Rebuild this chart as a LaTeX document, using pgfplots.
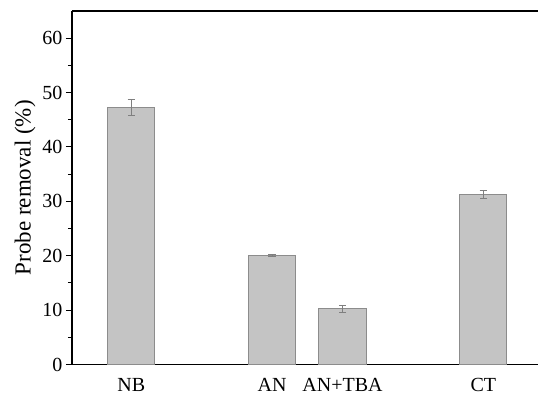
\documentclass[border=0pt]{standalone}
\usepackage{fontspec}
\setmainfont{Liberation Serif}
\usepackage{pgfplots}
\pgfplotsset{compat=1.18}
\usepackage{pgfplotstable}

\definecolor{barfill}{HTML}{C4C4C4}
\definecolor{baredge}{HTML}{8C8C8C}
\definecolor{errgray}{HTML}{7F7F7F}

% probe removal per condition (position on the x axis, mean, error)
\pgfplotstableread{
pos value err
1 47.3 1.45
3 20.0 0.2
4 10.25 0.63
6 31.25 0.7
}\removaltable

\begin{document}
\begin{tikzpicture}
\begin{axis}[
  at={(0,0)}, anchor=south west,
  scale only axis, width=466pt, height=353.5pt,
  xmin=0.158, xmax=6.777, ymin=0, ymax=65,
  axis lines=left,
  axis line style={-, line width=1.2pt, black},
  xtick={1,3,4,6},
  xticklabels={NB,AN,AN+TBA,CT},
  x tick label style={yshift=-4pt},
  major x tick style={draw=none},
  ytick={0,10,...,60},
  minor y tick num=1,
  tick align=outside,
  major tick length=6pt,
  minor tick length=4pt,
  y tick style={line width=1pt, black},
  tick label style={font=\fontsize{20}{24}\selectfont},
  /pgf/number format/assume math mode=true,
  ylabel={Probe removal (\%)},
  ylabel style={font=\fontsize{23}{27}\selectfont},
  ybar, bar width=47.3pt,
]
\addplot[
  fill=barfill, draw=baredge, line width=1pt,
  error bars/.cd, y dir=both, y explicit,
  error bar style={errgray, line width=1pt},
  error mark options={rotate=90, mark size=3.6pt, errgray, line width=1pt},
] table[x=pos, y=value, y error=err] {\removaltable};
\end{axis}
\draw[line width=1.2pt, black] (current axis.north west) -- (current axis.north east);
\useasboundingbox (-72pt,-27.5pt) rectangle (467pt,364.5pt);
\end{tikzpicture}
\end{document}
